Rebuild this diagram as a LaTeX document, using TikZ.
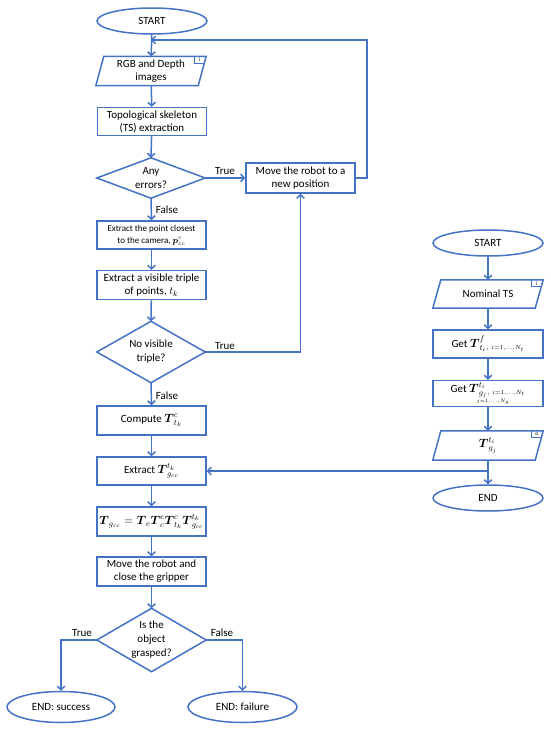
\documentclass[tikz,border=0pt]{standalone}
\usepackage{amsmath}
\usepackage{fontspec}
\setmainfont{Carlito}
\usetikzlibrary{shapes.geometric,arrows.meta,calc}
\definecolor{fb}{HTML}{4472C4}
\newcommand{\iobox}[2]{%
  \draw[line] ([xshift=4pt]#1.north west) -- ([xshift=4pt]#1.north east) -- ([xshift=-4pt]#1.south east) -- ([xshift=-4pt]#1.south west) -- cycle;
  \draw[line,line width=1pt] ([xshift=-8pt]#1.north east) -- ([xshift=-8pt,yshift=-7pt]#1.north east) -- ([xshift=2.1pt,yshift=-7pt]#1.north east);
  \node[font=\fontsize{5.5}{5.5}\selectfont,inner sep=0pt] at ([xshift=-2.5pt,yshift=-3.6pt]#1.north east) {#2};
}
\newcommand{\diabox}[1]{%
  \draw[line] (#1.north) -- (#1.east) -- (#1.south) -- (#1.west) -- cycle;
}
\begin{document}
\begin{tikzpicture}[x=1pt,y=-1pt,
  line/.style={draw=fb,line width=1.5pt},
  arr/.style={line,-{Straight Barb[length=3.5pt,width=7.5pt]}},
  proc/.style={rectangle,line,minimum width=109pt,minimum height=29pt,inner sep=1pt,align=center,font=\fontsize{11}{13}\selectfont},
  term/.style={ellipse,line,minimum width=110pt,minimum height=26pt,inner sep=0pt,font=\fontsize{11}{13}\selectfont},
  dec/.style={rectangle,minimum width=108pt,inner sep=0pt,align=center,font=\fontsize{11}{14}\selectfont},
  iop/.style={rectangle,minimum width=102pt,minimum height=29pt,inner sep=1pt,align=center,font=\fontsize{11}{13}\selectfont},
  lab/.style={font=\fontsize{11}{13}\selectfont,inner sep=1pt}
]
\useasboundingbox (0,0) rectangle (550,731);
\fill[white] (0,0) rectangle (550,731);

% left column
\node[term] (start) at (152,21) {START};
\node[iop] (rgb) at (151,71) {RGB and Depth\\images};
\iobox{rgb}{i}
\node[proc,minimum height=28pt] (ts) at (152,121.5) {Topological skeleton\\(TS) extraction};
\node[dec,minimum height=40pt] (err) at (151,178) {Any\\errors?};
\diabox{err}
\node[proc,minimum height=30pt] (move) at (300.5,178) {Move the robot to a\\new position};
\node[proc,minimum height=28pt,font=\fontsize{9}{12}\selectfont] (cc) at (151.5,235) {Extract the point closest\\to the camera, $\boldsymbol{p}^{c}_{cc}$};
\node[proc] (trip) at (151.5,285) {Extract a visible triple\\of points, $t_k$};
\node[dec,minimum height=61pt] (vis) at (151,352) {No visible\\triple?};
\diabox{vis}
\node[proc] (comp) at (151.5,420.5) {Compute \fontsize{12}{13}\selectfont$\boldsymbol{T}^{c}_{t_k}$};
\node[proc,minimum height=28pt] (ext) at (151.5,471) {Extract \fontsize{12}{13}\selectfont$\boldsymbol{T}^{t_k}_{g_{cc}}$};
\node[proc,font=\fontsize{12}{13}\selectfont] (tg) at (151.5,521.5) {$\boldsymbol{T}_{g_{cc}}=\boldsymbol{T}_{e}\boldsymbol{T}^{e}_{c}\boldsymbol{T}^{c}_{t_k}\boldsymbol{T}^{t_k}_{g_{cc}}$};
\node[proc] (mv) at (151.5,571.5) {Move the robot and\\close the gripper};
\node[dec,minimum width=109pt,minimum height=63pt] (gr) at (151.5,640) {Is the\\object\\grasped?};
\diabox{gr}
\node[term,minimum width=108pt,minimum height=31pt] (succ) at (61,707) {END: success};
\node[term,minimum width=109pt,minimum height=31pt] (fail) at (242.5,707) {END: failure};

% right column
\node[term] (start2) at (488,243) {START};
\node[iop,minimum height=28pt] (nom) at (488,294) {Nominal TS};
\iobox{nom}{i}
\node[proc,minimum width=110pt,minimum height=28pt] (gf) at (488,344) {Get \fontsize{12}{13}\selectfont$\boldsymbol{T}^{f}_{t_i}{}_{,\ \scriptscriptstyle i=1,\ldots,N_t}$};
\node[proc,minimum width=110pt,minimum height=26pt,inner sep=0pt] (gti) at (488,393.5) {\fontsize{11}{10}\selectfont Get \fontsize{12}{10}\selectfont$\boldsymbol{T}^{t_i}_{g_j}{}_{,\ \scriptscriptstyle i=1,\ldots,N_t}$\\[-3pt] \hspace*{10pt}$\scriptscriptstyle j=1,\ldots,N_g$};
\node[iop,font=\fontsize{12}{13}\selectfont] (tgj) at (488,445.5) {$\boldsymbol{T}^{t_i}_{g_j}$};
\iobox{tgj}{o}
\node[term] (end2) at (488,498) {END};

% connectors
\coordinate (j1) at (151,40);
\coordinate (j2) at (488,471);
\draw[arr] (start) -- (rgb);
\draw[arr] (rgb) -- (ts);
\draw[arr] (ts) -- (err.north);
\draw[arr] (err.east) -- (move.west);
\draw[arr] (err.south) -- (cc.north);
\draw[arr] (cc) -- (trip);
\draw[arr] (trip) -- (vis.north);
\draw[arr] (vis.east) -| (move.south);
\draw[arr] (move.east) -- ++(11,0) |- (j1);
\draw[arr] (vis.south) -- (comp.north);
\draw[arr] (comp) -- (ext);
\draw[arr] (ext) -- (tg);
\draw[arr] (tg) -- (mv);
\draw[arr] (mv) -- (gr.north);
\draw[arr] (gr.west) -| (succ.north);
\draw[arr] (gr.east) -| (fail.north);
\draw[arr] (start2) -- (nom);
\draw[arr] (nom) -- (gf);
\draw[arr] (gf) -- (gti);
\draw[arr] (gti) -- (tgj);
\draw[arr] (tgj) -- (end2);
\draw[arr] (j2) -- (ext.east);

% labels
\node[lab] (l1) at (225,171) {True};
\node[lab] (l2) at (167,210) {False};
\node[lab] (l3) at (225,346) {True};
\node[lab] (l4) at (167,396) {False};
\node[lab] (l5) at (82,633) {True};
\node[lab] (l6) at (222,633) {False};
\end{tikzpicture}
\end{document}
